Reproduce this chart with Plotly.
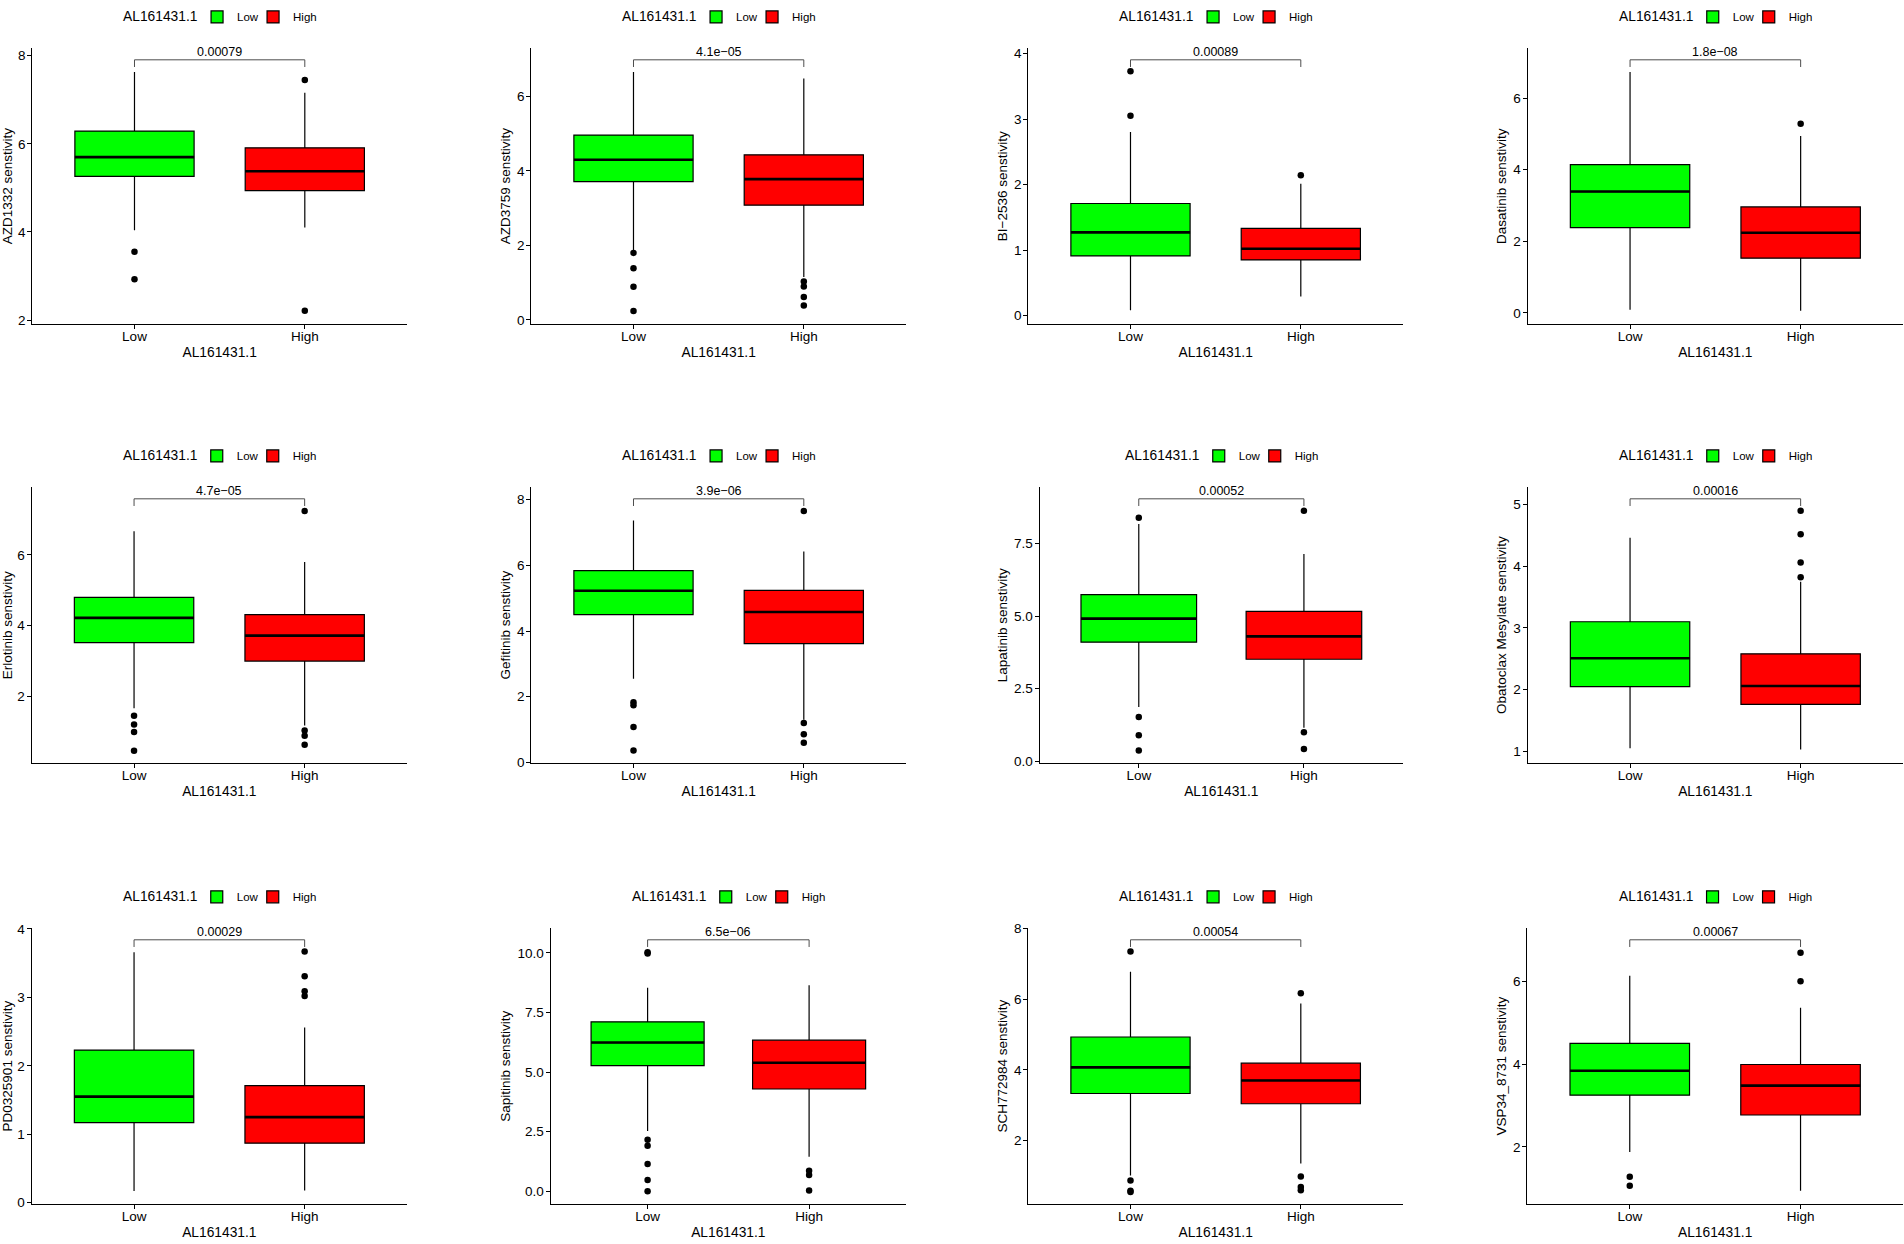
#box plots of drug sensitivity for AL161431.1 low vs high groups (12 drugs, 4x3 grid)
import plotly.graph_objects as go

#%%
#data
group_name = 'AL161431.1'
groups = ['Low', 'High']
drugs = ['AZD1332', 'AZD3759', 'BI\u22122536', 'Dasatinib',
         'Erlotinib', 'Gefitinib', 'Lapatinib', 'Obatoclax Mesylate',
         'PD0325901', 'Sapitinib', 'SCH772984', 'VSP34_8731']
p_labels = ['0.00079', '4.1e\u221205', '0.00089', '1.8e\u221208',
            '4.7e\u221205', '3.9e\u221206', '0.00052', '0.00016',
            '0.00029', '6.5e\u221206', '0.00054', '0.00067']

#low group: lower whisker, q1, median, q3, upper whisker
low_lo = [4.04, 1.86, 0.08, 0.09, 1.67, 2.55, 1.86, 1.05, 0.17, 2.53, 1.01, 1.88]
low_q1 = [5.26, 3.71, 0.91, 2.38, 3.52, 4.50, 4.10, 2.05, 1.17, 5.27, 3.33, 3.25]
low_med = [5.70, 4.30, 1.27, 3.39, 4.22, 5.23, 4.91, 2.51, 1.55, 6.24, 4.07, 3.84]
low_q3 = [6.29, 4.96, 1.71, 4.14, 4.80, 5.84, 5.74, 3.10, 2.23, 7.11, 4.93, 4.50]
low_hi = [7.63, 6.65, 2.80, 6.73, 6.67, 7.37, 8.17, 4.46, 3.66, 8.54, 6.78, 6.13]
low_out = [[3.55, 2.93], [1.80, 1.39, 0.89, 0.24], [3.73, 3.05], [],
           [1.46, 1.21, 1.00, 0.47], [1.83, 1.74, 1.08, 0.36], [8.39, 1.52, 0.89, 0.36], [],
           [], [10.03, 9.98, 2.16, 1.91, 1.14, 0.47, 0.0], [7.35, 0.87, 0.58, 0.54], [1.28, 1.06]]

#high group
high_lo = [4.10, 1.15, 0.29, 0.06, 1.18, 1.30, 1.15, 1.03, 0.18, 1.45, 1.35, 0.94]
high_q1 = [4.94, 3.08, 0.85, 1.53, 3.00, 3.62, 3.51, 1.76, 0.87, 4.29, 3.04, 2.77]
high_med = [5.38, 3.78, 1.02, 2.24, 3.72, 4.58, 4.30, 2.06, 1.25, 5.39, 3.70, 3.48]
high_q3 = [5.91, 4.43, 1.33, 2.96, 4.31, 5.24, 5.16, 2.58, 1.71, 6.34, 4.19, 3.99]
high_hi = [7.16, 6.48, 2.01, 4.94, 5.80, 6.42, 7.14, 3.75, 2.56, 8.65, 5.88, 5.36]
high_out = [[7.45, 2.21], [1.03, 0.90, 0.62, 0.39], [2.14], [5.28],
            [7.24, 1.04, 0.89, 0.64], [7.66, 1.20, 0.86, 0.60], [8.63, 0.99, 0.42], [4.90, 4.52, 4.06, 3.82],
            [3.67, 3.31, 3.09, 3.02], [0.86, 0.68, 0.03], [6.17, 0.98, 0.68, 0.59], [6.69, 6.0]]

#axis ranges and tick values
y_ranges = [[1.91, 8.17], [-0.11, 7.29], [-0.13, 4.08], [-0.31, 7.39],
            [0.12, 7.91], [-0.02, 8.38], [-0.07, 9.44], [0.81, 5.28],
            [-0.02, 4.01], [-0.54, 11.04], [0.20, 8.01], [0.62, 7.28]]
y_ticks = [[2, 4, 6, 8], [0, 2, 4, 6], [0, 1, 2, 3, 4], [0, 2, 4, 6],
           [2, 4, 6], [0, 2, 4, 6, 8], [0, 2.5, 5, 7.5], [1, 2, 3, 4, 5],
           [0, 1, 2, 3, 4], [0, 2.5, 5, 7.5, 10], [2, 4, 6, 8], [2, 4, 6]]

#%%
#layout of the grid in pixels (ggarrange style, left edge depends on tick label width)
W, H = 1904, 1244
panel_left = [32.3, 531.3, 1028.3, 1527.7, 31.7, 531.3, 1039.7, 1527.7, 31.7, 550.7, 1028.3, 1527.3]
col_right = [407, 906, 1403, 1903]
row_top = [41.7, 485.7, 931.7]
row_bottom = [320.7, 764.7, 1210.7]
legend_px = [10, 454, 900]

FONT = 'Liberation Sans, Arial, sans-serif'
colors = {'Low': '#00FF00', 'High': '#FF0000'}
entry_w = {'Low': 11, 'High': 28}
box_width = 0.7

fig = go.Figure()
layout = dict(width=W, height=H, margin=dict(l=0, r=0, t=0, b=0), autosize=False,
              paper_bgcolor='white', plot_bgcolor='white',
              font=dict(family=FONT, color='black'), shapes=[], annotations=[])

for i in range(12):
    n = i + 1
    row, col = i // 4, i % 4
    xa = 'x' if n == 1 else 'x%d' % n
    ya = 'y' if n == 1 else 'y%d' % n
    leg = 'legend' if n == 1 else 'legend%d' % n

    stats = {'Low': (low_lo[i], low_q1[i], low_med[i], low_q3[i], low_hi[i], low_out[i]),
             'High': (high_lo[i], high_q1[i], high_med[i], high_q3[i], high_hi[i], high_out[i])}

    for pos, g in enumerate(groups, start=1):
        lo, q1, med, q3, hi, out = stats[g]
        fig.add_trace(go.Box(x=[pos], q1=[q1], median=[med], q3=[q3],
                             lowerfence=[lo], upperfence=[hi],
                             name=g, width=box_width, whiskerwidth=0,
                             fillcolor=colors[g], line=dict(color='black', width=1.2),
                             boxpoints=False, xaxis=xa, yaxis=ya, legend=leg,
                             legendwidth=entry_w[g], hoverinfo='skip'))
        if out:
            fig.add_trace(go.Scatter(x=[pos] * len(out), y=out, mode='markers',
                                     marker=dict(color='black', size=6.5),
                                     xaxis=xa, yaxis=ya, showlegend=False,
                                     hoverinfo='skip'))
        #thicker median line like ggplot
        layout['shapes'].append(dict(type='line', xref=xa, yref=ya,
                                     x0=pos - box_width / 2, x1=pos + box_width / 2,
                                     y0=med, y1=med, line=dict(color='black', width=2.6)))

    #p-value bracket
    b_top, b_tip = 0.958, 0.932
    for x0, y0, x1, y1 in [(1, b_tip, 1, b_top), (1, b_top, 2, b_top), (2, b_top, 2, b_tip)]:
        layout['shapes'].append(dict(type='line', xref=xa, yref=ya + ' domain',
                                     x0=x0, x1=x1, y0=y0, y1=y1,
                                     line=dict(color='#4d4d4d', width=1)))
    layout['annotations'].append(dict(text=p_labels[i], x=1.5, xref=xa,
                                      y=0.985, yref=ya + ' domain', yanchor='middle',
                                      showarrow=False, font=dict(size=12.5, color='black')))

    x0p = panel_left[i] / W
    x1p = col_right[col] / W
    y0p = 1 - row_bottom[row] / H
    y1p = 1 - row_top[row] / H

    axis_common = dict(showline=True, linecolor='black', linewidth=1.3,
                       ticks='outside', ticklen=4, tickwidth=1.2, tickcolor='black',
                       showgrid=False, zeroline=False,
                       tickfont=dict(size=13.5, color='black'))
    layout['xaxis' if n == 1 else 'xaxis%d' % n] = dict(
        axis_common, domain=[x0p, x1p], anchor=ya, range=[0.4, 2.6],
        tickvals=[1, 2], ticktext=groups, ticklabelstandoff=-4,
        title=dict(text=group_name, font=dict(size=13.8), standoff=3))
    tickfmt = '.1f' if any(t % 1 for t in y_ticks[i]) else 'd'
    layout['yaxis' if n == 1 else 'yaxis%d' % n] = dict(
        axis_common, domain=[y0p, y1p], anchor=xa, range=y_ranges[i],
        tickvals=y_ticks[i], tickformat=tickfmt, ticklabelstandoff=-1,
        title=dict(text=drugs[i] + ' senstivity', font=dict(size=13.5), standoff=3))

    #legend on top of each panel: group title to the left of the two keys
    centre_px = (panel_left[i] + col_right[col]) / 2
    leg_y = 1 - legend_px[row] / H
    layout['annotations'].append(dict(text=group_name, xref='paper', yref='paper',
                                      x=(centre_px - 20.5) / W, xanchor='right',
                                      y=leg_y, yanchor='middle', showarrow=False,
                                      font=dict(size=13.8, color='black')))
    layout[leg] = dict(orientation='h', x=(centre_px - 22.6) / W, xanchor='left',
                       y=leg_y, yanchor='middle',
                       font=dict(size=11.5), bgcolor='rgba(0,0,0,0)',
                       itemwidth=30, tracegroupgap=0)

fig.update_layout(**layout)

#%%
#pin the figure to the top-left corner of the page so no body margin shifts it
pin = ("document.body.style.margin='0';document.body.style.overflow='hidden';"
       "var d=document.getElementById('{plot_id}');"
       "d.style.position='fixed';d.style.left='0px';d.style.top='0px';")
fig.write_html('out.html', config={'displayModeBar': False}, post_script=pin)
